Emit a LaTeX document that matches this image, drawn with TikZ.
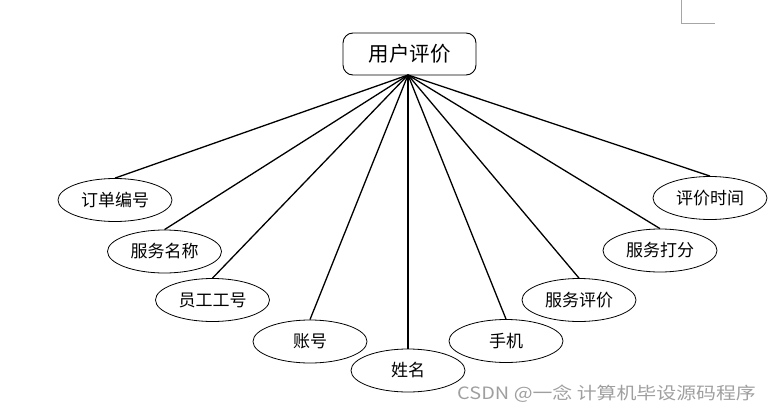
\documentclass[tikz,border=0pt]{standalone}
\usepackage{fontspec}
\usetikzlibrary{shapes.geometric}
\newfontfamily\cjk{Noto Sans CJK SC}
\begin{document}
\begin{tikzpicture}[x=1pt,y=-1pt,
  attr/.style={draw, ellipse, minimum width=114pt, minimum height=43pt, inner sep=0pt, line width=0.8pt, font=\cjk\fontsize{17}{19}\selectfont},
  ent/.style={draw, rounded corners=10pt, minimum width=133pt, minimum height=42pt, inner sep=0pt, line width=0.9pt, font=\cjk\fontsize{20.5}{23}\selectfont},
  link/.style={line width=1.3pt}]
\useasboundingbox (0,0) rectangle (769,412);
\draw[gray!70, line width=1pt] (681,0) -- (681,24) -- (715,24);
\node[ent] (c) at (409.5,54) {用户评价};
\coordinate (hub) at (408,75);
\node[attr] (a1) at (115,200) {订单编号};
\node[attr] (a2) at (164.5,251.5) {服务名称};
\node[attr] (a3) at (212.5,300) {员工工号};
\node[attr] (a4) at (310,341.5) {账号};
\node[attr] (a5) at (408,370.5) {姓名};
\node[attr] (a6) at (506,341) {手机};
\node[attr] (a7) at (579,300) {服务评价};
\node[attr] (a8) at (660,250.5) {服务打分};
\node[attr] (a9) at (710,198) {评价时间};
\foreach \i in {1,...,9} \draw[link] (hub) -- (a\i.north);
\node[font=\cjk\fontsize{17}{19}\selectfont, text=gray!75, anchor=west, inner sep=0pt, xscale=1.17] (wm) at (457,394) {CSDN @一念 计算机毕设源码程序};
\end{tikzpicture}
\end{document}
